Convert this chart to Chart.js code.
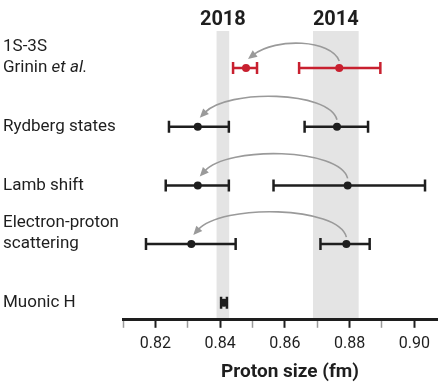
<!DOCTYPE html>
<html>
<head>
<meta charset="utf-8">
<script src="https://cdn.jsdelivr.net/npm/chart.js@4.4.1/dist/chart.umd.min.js"></script>
<style>
  html, body { margin: 0; padding: 0; background: #fff; }
  canvas { display: block; }
</style>
</head>
<body>
<canvas id="proton" width="444" height="390"></canvas>
<script>
  // label lines per row, _text_ = italic
  const methods = [
    ["1S-3S", "Grinin _et al._"],
    ["Rydberg states"],
    ["Lamb shift"],
    ["Electron-proton", "scattering"],
    ["Muonic H"]
  ];

  // current (2018-era) values and error bars, in fm
  const newValue = [0.8480, 0.8331, 0.8331, 0.8311, 0.8412];
  const newLow   = [0.8440, 0.8242, 0.8232, 0.8171, 0.8403];
  const newHigh  = [0.8514, 0.8427, 0.8427, 0.8448, 0.8421];

  // earlier (2014-era) values
  const oldValue = [0.8768, 0.8761, 0.8794, 0.8790, null];
  const oldLow   = [0.8644, 0.8661, 0.8565, 0.8710, null];
  const oldHigh  = [0.8895, 0.8857, 0.9033, 0.8862, null];

  // shaded bands (CODATA values)
  const bandLabels = ["2018", "2014"];
  const bandLow    = [0.8389, 0.8687];
  const bandHigh   = [0.8428, 0.8828];

  const tickValues = [0.81, 0.82, 0.83, 0.84, 0.85, 0.86, 0.87, 0.88, 0.89, 0.90];

  const RED = '#c8202f';
  const BLACK = '#1e1e1e';
  const GREY_BAND = '#e4e4e4';
  const ARROW = '#9a9a9a';

  function rowColor(i) {
    return i === 0 ? RED : BLACK;
  }

  function isMajor(v) {
    return Math.round(v * 100) % 2 === 0;
  }

  let newPoints = newValue.map(function(v, i) { return { x: v, y: i }; });
  let oldPoints = [];
  oldValue.forEach(function(v, i) {
    if (v !== null) oldPoints.push({ x: v, y: i });
  });

  // bands + year labels, under the axes
  const bandsPlugin = {
    id: 'bands',
    beforeDraw: function(chart) {
      let ctx = chart.ctx;
      let x = chart.scales.x;
      let area = chart.chartArea;
      ctx.save();
      bandLow.forEach(function(lo, i) {
        let x0 = x.getPixelForValue(lo);
        let x1 = x.getPixelForValue(bandHigh[i]);
        ctx.fillStyle = GREY_BAND;
        ctx.fillRect(x0, area.top, x1 - x0, area.bottom - area.top);
        ctx.fillStyle = BLACK;
        ctx.font = 'bold 20px Roboto';
        ctx.textAlign = 'center';
        ctx.textBaseline = 'middle';
        ctx.fillText(bandLabels[i], (x0 + x1) / 2, 20);
      });
      ctx.restore();
    }
  };

  function errorBar(ctx, xs, y, lo, hi, color) {
    let x0 = xs.getPixelForValue(lo);
    let x1 = xs.getPixelForValue(hi);
    ctx.strokeStyle = color;
    ctx.lineWidth = 2.5;
    ctx.beginPath();
    ctx.moveTo(x0, y);
    ctx.lineTo(x1, y);
    ctx.moveTo(x0, y - 6);
    ctx.lineTo(x0, y + 6);
    ctx.moveTo(x1, y - 6);
    ctx.lineTo(x1, y + 6);
    ctx.stroke();
  }

  function arrow(ctx, xOld, xNew, y) {
    let k = 6.6 + 0.16 * (xOld - xNew);
    let sx = xOld, sy = y - 7;
    let ex = xNew + 2, ey = y - 9;
    let c1x = xOld - 8, c1y = sy - k;
    let c2x = xNew + 30, c2y = ey - k;
    let ang = Math.atan2(ey - c2y, ex - c2x);
    let len = 9, half = 4;
    let bx = ex - Math.cos(ang) * len;
    let by = ey - Math.sin(ang) * len;
    ctx.strokeStyle = ARROW;
    ctx.lineWidth = 1.6;
    ctx.beginPath();
    ctx.moveTo(sx, sy);
    ctx.bezierCurveTo(c1x, c1y, c2x, c2y, bx + Math.cos(ang) * 2, by + Math.sin(ang) * 2);
    ctx.stroke();
    ctx.fillStyle = ARROW;
    ctx.beginPath();
    ctx.moveTo(ex, ey);
    ctx.lineTo(bx - Math.sin(ang) * half, by + Math.cos(ang) * half);
    ctx.lineTo(bx + Math.sin(ang) * half, by - Math.cos(ang) * half);
    ctx.closePath();
    ctx.fill();
  }

  const marksPlugin = {
    id: 'marks',
    beforeDatasetsDraw: function(chart) {
      let ctx = chart.ctx;
      let xs = chart.scales.x;
      let ys = chart.scales.y;
      ctx.save();
      newValue.forEach(function(v, i) {
        let y = ys.getPixelForValue(i);
        if (oldValue[i] !== null) {
          arrow(ctx, xs.getPixelForValue(oldValue[i]), xs.getPixelForValue(v), y);
          errorBar(ctx, xs, y, oldLow[i], oldHigh[i], rowColor(i));
        }
        errorBar(ctx, xs, y, newLow[i], newHigh[i], rowColor(i));
      });
      ctx.restore();
    },
    afterDraw: function(chart) {
      let ctx = chart.ctx;
      let ys = chart.scales.y;
      ctx.save();
      ctx.fillStyle = BLACK;
      ctx.textBaseline = 'middle';
      ctx.textAlign = 'left';
      methods.forEach(function(lines, i) {
        let y = ys.getPixelForValue(i);
        lines.forEach(function(line, j) {
          let ly = y - (lines.length - 1 - j) * 21;
          let x = 3;
          line.split('_').forEach(function(part, k) {
            ctx.font = (k % 2 ? 'italic ' : '') + '17px Roboto';
            ctx.fillText(part, x, ly);
            x += ctx.measureText(part).width;
          });
        });
      });
      // axis title
      ctx.font = 'bold 19px Roboto';
      ctx.textAlign = 'center';
      ctx.fillText('Proton size (fm)', 290, 372);
      ctx.restore();
    }
  };

  new Chart(document.getElementById('proton'), {
    type: 'scatter',
    data: {
      datasets: [
        {
          label: 'new',
          data: newPoints,
          pointRadius: 4,
          pointHoverRadius: 4,
          pointBorderWidth: 0,
          pointBackgroundColor: newPoints.map(function(p) { return rowColor(p.y); })
        },
        {
          label: 'old',
          data: oldPoints,
          pointRadius: 4,
          pointHoverRadius: 4,
          pointBorderWidth: 0,
          pointBackgroundColor: oldPoints.map(function(p) { return rowColor(p.y); })
        }
      ]
    },
    options: {
      responsive: false,
      animation: false,
      layout: { padding: { left: 123, right: 7, top: 31, bottom: 29 } },
      plugins: {
        legend: { display: false },
        tooltip: { enabled: false }
      },
      scales: {
        x: {
          type: 'linear',
          min: 0.81,
          max: 0.907,
          afterBuildTicks: function(scale) {
            scale.ticks = tickValues.map(function(v) { return { value: v }; });
          },
          grid: {
            drawOnChartArea: false,
            drawTicks: true,
            tickLength: 8,
            tickColor: function(c) { return isMajor(c.tick.value) ? BLACK : '#9a9a9a'; },
            tickWidth: function(c) { return isMajor(c.tick.value) ? 2 : 1.5; }
          },
          border: { color: BLACK, width: 3 },
          ticks: {
            autoSkip: false,
            maxRotation: 0,
            padding: 7,
            color: BLACK,
            font: { family: 'Roboto', size: 16 },
            callback: function(v) { return isMajor(v) ? v.toFixed(2) : ''; }
          }
        },
        y: {
          type: 'linear',
          display: false,
          reverse: true,
          min: -0.63,
          max: 4.29
        }
      }
    },
    plugins: [bandsPlugin, marksPlugin]
  });
</script>
</body>
</html>
